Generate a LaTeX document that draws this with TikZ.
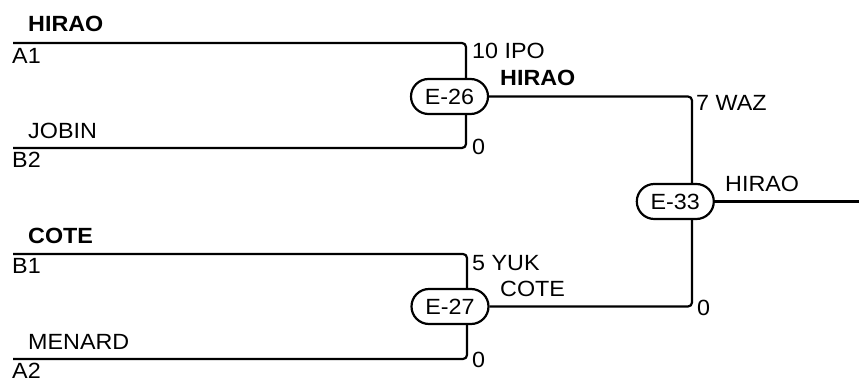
\documentclass[tikz,border=0pt]{standalone}
\usepackage{fontspec}
\setmainfont[FakeStretch=1.06]{Liberation Sans}
\usetikzlibrary{shapes.misc}
\begin{document}
\begin{tikzpicture}[x=1pt,y=-1pt,
  wire/.style={line width=2.2pt, rounded corners=4pt},
  game/.style={rounded rectangle, draw, line width=2.2pt, minimum width=77pt, minimum height=35pt, inner sep=0pt, font=\fontsize{22}{26}\selectfont},
  lbl/.style={anchor=base west, inner sep=0pt, font=\fontsize{22}{26}\selectfont},
  blbl/.style={lbl, font=\fontsize{22}{26}\selectfont\bfseries}]
\useasboundingbox (0,0) rectangle (859,379);
% games
\node[game] (e26) at (449.5,96.5) {E-26};
\node[game] (e27) at (450,306.5) {E-27};
\node[game] (e33) at (675.3,201.5) {E-33};
% free ends
\coordinate (a1) at (13,43);
\coordinate (b2) at (13,148);
\coordinate (b1) at (13,254);
\coordinate (a2) at (13,359);
\coordinate (x26) at (466,0);
\coordinate (x27) at (467,0);
\coordinate (x33) at (692,0);
\coordinate (out) at (859,201.5);
% connectors
\draw[wire] (a1) -| (x26 |- e26.north);
\draw[wire] (b2) -| (x26 |- e26.south);
\draw[wire] (b1) -| (x27 |- e27.north);
\draw[wire] (a2) -| (x27 |- e27.south);
\draw[wire] (e26.east) -| (x33 |- e33.north);
\draw[wire] (e27.east) -| (x33 |- e33.south);
\draw[wire] (e33.east) -- (out);
% labels
\node[blbl] (l1) at (28,32) {HIRAO};
\node[lbl] (l2) at (12,64) {A1};
\node[lbl] (l3) at (472,59) {10 IPO};
\node[lbl] (l4) at (28,139) {JOBIN};
\node[lbl] (l5) at (12,168) {B2};
\node[lbl] (l6) at (472,155) {0};
\node[blbl] (l7) at (500,86) {HIRAO};
\node[lbl] (l8) at (696,111) {7 WAZ};
\node[lbl] (l9) at (725,192) {HIRAO};
\node[blbl] (l10) at (28,244) {COTE};
\node[lbl] (l11) at (12,274) {B1};
\node[lbl] (l12) at (472,271) {5 YUK};
\node[lbl] (l13) at (500,297) {COTE};
\node[lbl] (l14) at (28,349) {MENARD};
\node[lbl] (l15) at (12,378) {A2};
\node[lbl] (l16) at (472,367) {0};
\node[lbl] (l17) at (697,315) {0};
\end{tikzpicture}
\end{document}
